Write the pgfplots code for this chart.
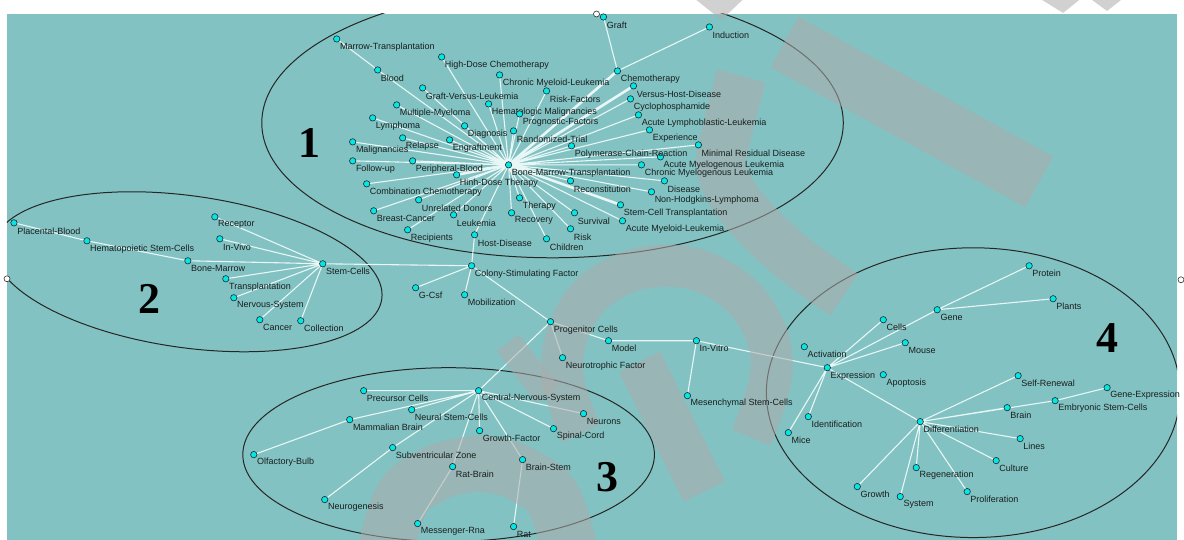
\documentclass[border=0pt]{standalone}
\usepackage{pgfplots}
\pgfplotsset{compat=1.18}
\usepackage{fontspec}
\setmainfont{Liberation Sans}
\newfontfamily\numfont{Liberation Serif}
\definecolor{bg}{RGB}{131,194,194}
\definecolor{nodecyan}{RGB}{0,232,232}
\definecolor{edge}{RGB}{232,246,246}
\definecolor{txt}{RGB}{25,30,30}
\definecolor{wm}{RGB}{172,172,172}

\begin{document}
\begin{tikzpicture}
\begin{axis}[x=1pt, y=1pt, xmin=0, xmax=1184, ymin=0, ymax=540,
    y dir=reverse, hide axis, clip=false]
% background
\fill[white] (axis cs:0,0) rectangle (axis cs:1184,540);
\fill[bg] (axis cs:7,14) rectangle (axis cs:1178,540);

% cluster ellipses
\begin{scope}
\clip (axis cs:7,14) rectangle (axis cs:1178,540);
\draw[black!85, line width=1pt] (axis cs:553,123) ellipse [x radius=291, y radius=135];
\draw[black!85, line width=1pt, rotate around={-8:(axis cs:188,272)}]
    (axis cs:188,272) ellipse [x radius=196, y radius=76];
\draw[black!85, line width=1pt] (axis cs:449,455) ellipse [x radius=206, y radius=87];
\draw[black!85, line width=1pt] (axis cs:974,393) ellipse [x radius=207, y radius=145];
\end{scope}

% edges
\addplot[edge, line width=1.1pt, line join=round, unbounded coords=jump] coordinates {
(509,165)(442,57)(509,165)(423,88)(509,165)(397,105)(509,165)(373,118)
(509,165)(500,75)(509,165)(547,91)(509,165)(489,104)(509,165)(520,114)
(509,165)(465,126)(509,165)(514,131)(509,165)(403,138)(509,165)(450,140)
(509,165)(353,142)(509,165)(353,161)(509,165)(413,161)(509,165)(367,184)
(509,165)(419,200)(509,165)(374,211)(509,165)(454,215)(509,165)(408,230)
(509,165)(475,235)(509,165)(520,198)(509,165)(512,213)(509,165)(547,239)
(509,165)(571,229)(509,165)(575,213)(509,165)(571,181)(509,165)(623,221)
(509,165)(652,192)(509,165)(665,181)(509,165)(642,165)(509,165)(661,157)
(509,165)(699,145)(509,165)(572,146)(509,165)(650,130)(509,165)(639,115)
(509,165)(631,99)(509,165)(378,70)(337,39)
(nan,nan) (604,17)(618,71)(710,27)
(nan,nan) (14,223)(87,241)(188,261)(323,264)(215,217)(323,264)(220,239)
(323,264)(226,279)(323,264)(234,298)(323,264)(260,320)(323,264)(301,321)
(323,264)(472,266)(416,288)(472,266)(465,295)(472,266)(475,235)
(472,266)(551,322)(609,341)(697,341)(688,396)
(nan,nan) (697,341)(828,368)
(nan,nan) (551,322)(563,358)
(nan,nan) (551,322)(479,391)(364,391)(479,391)(412,410)(479,391)(350,420)(254,455)
(nan,nan) (479,391)(393,448)(325,500)
(nan,nan) (479,391)(453,467)(418,524)
(nan,nan) (479,391)(523,460)(514,527)
(nan,nan) (479,391)(480,431)(479,391)(554,429)(479,391)(584,414)
(nan,nan) (1030,266)(938,310)(1054,299)
(nan,nan) (938,310)(828,368)(884,320)(828,368)(906,343)(828,368)(809,417)
(828,368)(789,433)(828,368)(921,422)
(1019,376)(921,422)(1008,408)(921,422)(1056,401)(1108,388)
(nan,nan) (921,422)(1021,439)(921,422)(997,461)(921,422)(917,468)
(921,422)(858,487)(921,422)(901,497)(921,422)(968,492)
};
\addplot[edge, line width=2.6pt, line join=round] coordinates {
(618,71)(509,165)(634,86)(509,165)(621,205)(509,165)(457,175)
};

% nodes and labels
\addplot[only marks, mark=*, mark size=3.2pt,
    mark options={fill=nodecyan, draw=black!85, line width=0.6pt},
    nodes near coords, point meta=explicit symbolic,
    nodes near coords style={anchor=west, font=\fontsize{9}{10}\selectfont,
        text=txt, xshift=2.5pt, yshift=-8pt, inner sep=0.5pt}]
coordinates {
(509,165)[Bone-Marrow-Transplantation]
(337,39)[Marrow-Transplantation]
(378,70)[Blood]
(442,57)[High-Dose Chemotherapy]
(423,88)[Graft-Versus-Leukemia]
(397,105)[Multiple-Myeloma]
(373,118)[Lymphoma]
(500,75)[Chronic Myeloid-Leukemia]
(547,91)[Risk-Factors]
(489,104)[Hematologic Malignancies]
(520,114)[Prognostic-Factors]
(465,126)[Diagnosis]
(514,131)[Randomized-Trial]
(403,138)[Relapse]
(450,140)[Engraftment]
(353,142)[Malignancies]
(353,161)[Follow-up]
(413,161)[Peripheral-Blood]
(457,175)[Hinh-Dose Therapy]
(367,184)[Combination Chemotherapy]
(419,200)[Unrelated Donors]
(374,211)[Breast-Cancer]
(454,215)[Leukemia]
(408,230)[Recipients]
(475,235)[Host-Disease]
(520,198)[Therapy]
(512,213)[Recovery]
(547,239)[Children]
(571,229)[Risk]
(575,213)[Survival]
(571,181)[Reconstitution]
(621,205)[Stem-Cell Transplantation]
(623,221)[Acute Myeloid-Leukemia]
(652,192)[Non-Hodgkins-Lymphoma]
(665,181)[Disease]
(642,165)[Chronic Myelogenous Leukemia]
(661,157)[Acute Myelogenous Leukemia]
(699,145)[Minimal Residual Disease]
(572,146)[Polymerase-Chain-Reaction]
(650,130)[Experience]
(639,115)[Acute Lymphoblastic-Leukemia]
(631,99)[Cyclophosphamide]
(634,86)[Versus-Host-Disease]
(618,71)[Chemotherapy]
(604,17)[Graft]
(710,27)[Induction]
(14,223)[Placental-Blood]
(87,241)[Hematopoietic Stem-Cells]
(188,261)[Bone-Marrow]
(215,217)[Receptor]
(220,239)[In-Vivo]
(323,264)[Stem-Cells]
(226,279)[Transplantation]
(234,298)[Nervous-System]
(260,320)[Cancer]
(301,321)[Collection]
(472,266)[Colony-Stimulating Factor]
(416,288)[G-Csf]
(465,295)[Mobilization]
(551,322)[Progenitor Cells]
(609,341)[Model]
(697,341)[In-Vitro]
(563,358)[Neurotrophic Factor]
(688,396)[Mesenchymal Stem-Cells]
(479,391)[Central-Nervous-System]
(364,391)[Precursor Cells]
(412,410)[Neural Stem-Cells]
(350,420)[Mammalian Brain]
(584,414)[Neurons]
(480,431)[Growth-Factor]
(554,429)[Spinal-Cord]
(393,448)[Subventricular Zone]
(254,455)[Olfactory-Bulb]
(453,467)[Rat-Brain]
(523,460)[Brain-Stem]
(325,500)[Neurogenesis]
(418,524)[Messenger-Rna]
(514,527)[Rat]
(1030,266)[Protein]
(1054,299)[Plants]
(938,310)[Gene]
(884,320)[Cells]
(906,343)[Mouse]
(805,347)[Activation]
(828,368)[Expression]
(884,375)[Apoptosis]
(1019,376)[Self-Renewal]
(1108,388)[Gene-Expression]
(1008,408)[Brain]
(1056,401)[Embryonic Stem-Cells]
(921,422)[Differentiation]
(809,417)[Identification]
(789,433)[Mice]
(1021,439)[Lines]
(997,461)[Culture]
(917,468)[Regeneration]
(858,487)[Growth]
(968,492)[Proliferation]
(901,497)[System]
};

% selection handles
\addplot[only marks, mark=*, mark size=3pt,
    mark options={fill=white, draw=black!80, line width=0.6pt}]
coordinates {(597,14) (7,279) (1182,280)};

% cluster numbers
\node[font=\numfont\bfseries\fontsize{44}{44}\selectfont] at (axis cs:310,143) {1};
\node[font=\numfont\bfseries\fontsize{44}{44}\selectfont] at (axis cs:150,299) {2};
\node[font=\numfont\bfseries\fontsize{44}{44}\selectfont] at (axis cs:608,478) {3};
\node[font=\numfont\bfseries\fontsize{44}{44}\selectfont] at (axis cs:1108,338) {4};

% watermark strokes laid over the picture, kept out of the bounding box
\begin{pgfinterruptboundingbox}
\begin{scope}
\clip (axis cs:0,0) rectangle (axis cs:1184,540);
\begin{scope}[opacity=0.55]
\fill[wm] (axis cs:697,0) -- (axis cs:743,0) -- (axis cs:722,20) -- cycle;
\fill[wm] (axis cs:1043,0) -- (axis cs:1080,0) -- (axis cs:1064,13) -- cycle;
\fill[wm] (axis cs:1093,0) -- (axis cs:1122,0) -- (axis cs:1108,11) -- cycle;
\draw[wm, line width=58pt] (axis cs:785,42) -- (axis cs:1040,182);
\draw[wm, line width=50pt] plot[smooth, tension=0.6] coordinates {
    (axis cs:742,76) (axis cs:728,130) (axis cs:722,168) (axis cs:742,207)
    (axis cs:790,255) (axis cs:845,295)};
\draw[wm, line width=42pt] plot[smooth, tension=0.7] coordinates {
    (axis cs:582,434) (axis cs:563,374) (axis cs:575,318) (axis cs:612,280)
    (axis cs:668,266) (axis cs:722,281) (axis cs:760,320) (axis cs:772,372)
    (axis cs:752,438)};
\draw[wm, line width=56pt] plot[smooth, tension=0.7] coordinates {
    (axis cs:384,560) (axis cs:401,502) (axis cs:428,478) (axis cs:462,466)
    (axis cs:496,466) (axis cs:528,478) (axis cs:555,502) (axis cs:572,560)};
\draw[wm, line width=46pt] (axis cs:640,362) -- (axis cs:705,492);
\draw[wm, line width=28pt] (axis cs:508,343) -- (axis cs:548,395);
\end{scope}
\end{scope}
\end{pgfinterruptboundingbox}
\end{axis}
\end{tikzpicture}
\end{document}
